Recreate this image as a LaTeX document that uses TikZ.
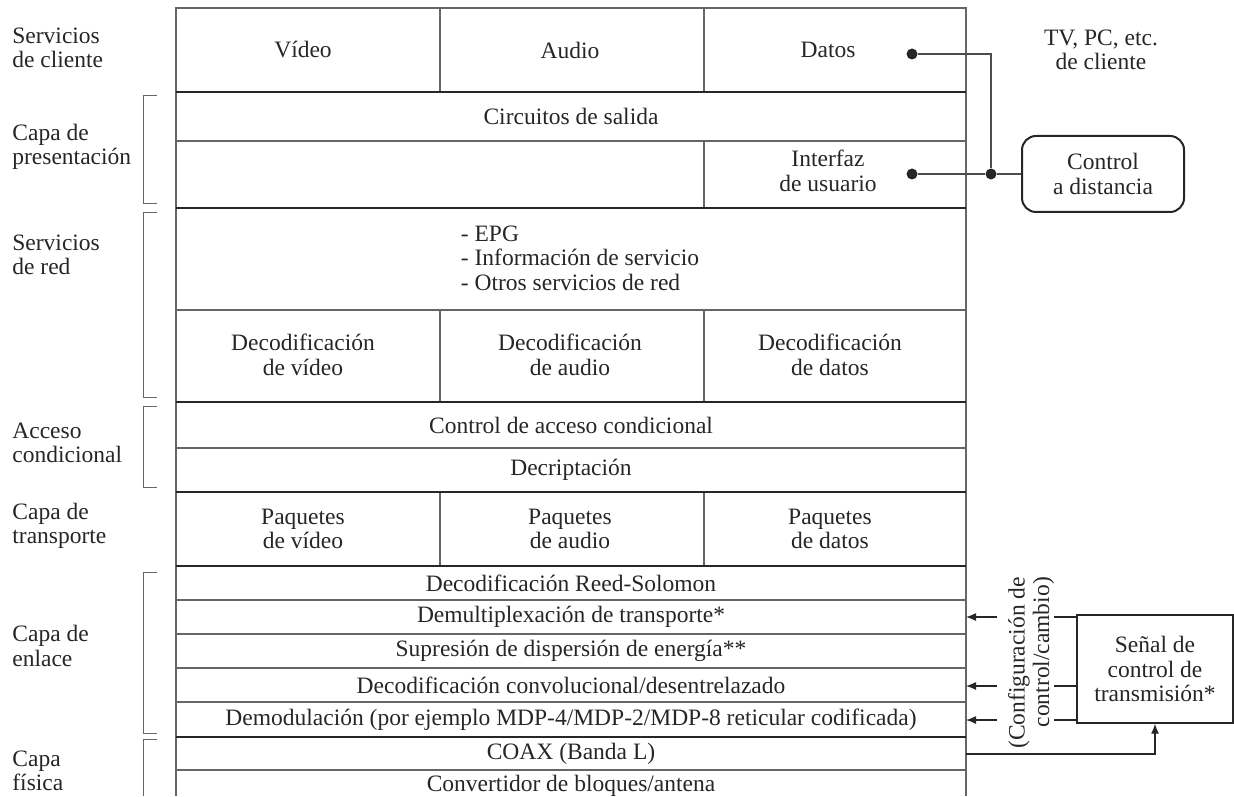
\documentclass[tikz,border=0pt]{standalone}
\usepackage{fontspec}
\setmainfont{Liberation Serif}
\usepackage{tikz}
\usetikzlibrary{arrows.meta}
\tikzstyle{cell}=[inner sep=0pt, align=center, text=black!85, font=\fontsize{11.75}{12.25}\selectfont]
\tikzstyle{layer}=[cell, align=left, anchor=west]
\tikzstyle{thinrule}=[draw=black!60, line width=0.55pt]
\tikzstyle{thickrule}=[draw=black!85, line width=1.1pt]
\tikzstyle{bracket}=[draw=black!60, line width=0.5pt]
\tikzstyle{dotnode}=[circle, fill=black!85, minimum size=5.5pt, inner sep=0pt]
\tikzstyle{wire}=[draw=black!70, line width=0.6pt]
\tikzstyle{ctrlarrow}=[draw=black!85, line width=0.6pt, -{Latex[length=5pt,width=4pt]}]
\tikzstyle{stub}=[draw=black!85, line width=1pt]
\tikzstyle{remote}=[cell, draw=black!85, line width=1pt, rounded corners=7pt, minimum width=81pt, minimum height=38pt]
\tikzstyle{signalbox}=[cell, draw=black!85, line width=0.7pt, minimum width=78pt, minimum height=54pt]

\begin{document}
\begin{tikzpicture}[x=0.5pt, y=-0.5pt]
    \useasboundingbox (0,0) rectangle (1234,796);

    % frame and rows
    \draw[thinrule] (176,796) -- (176,8) -- (966,8) -- (966,796);
    \foreach \ya/\yb in {8/92, 310/402, 492/566}
        \draw[thinrule] (440,\ya) -- (440,\yb) (704,\ya) -- (704,\yb);
    \draw[thinrule] (704,141) -- (704,208);
    \foreach \y in {141,310,448,600,634,668,702,770}
        \draw[thinrule] (176,\y) -- (966,\y);
    \foreach \y in {92,208,402,492,566,737}
        \draw[thickrule] (176,\y) -- (966,\y);

    % cell texts
    \foreach \x/\y/\name/\txt in {303/50/video/Vídeo, 570/50/audio/Audio, 828/50/datos/Datos,
            571/116/salida/Circuitos de salida, 828/171/interfaz/{Interfaz\\de usuario},
            303/355/decvid/{Decodificación\\de vídeo}, 570/355/decaud/{Decodificación\\de audio},
            830/355/decdat/{Decodificación\\de datos},
            571/425/cacontrol/Control de acceso condicional, 571/470/decript/Decriptación,
            303/529/paqvid/{Paquetes\\de vídeo}, 570/529/paqaud/{Paquetes\\de audio},
            830/529/paqdat/{Paquetes\\de datos},
            571/583/rs/Decodificación Reed-Solomon, 571/617/demux/Demultiplexación de transporte*,
            571/651/energia/Supresión de dispersión de energía**,
            571/685/conv/{Decodificación convolucional/desentrelazado},
            571/720/demod/{Demodulación (por ejemplo MDP-4/MDP-2/MDP-8 reticular codificada)},
            571/754/coax/COAX (Banda L), 571/786/lnb/{Convertidor de bloques/antena}}
        \node[cell] (\name) at (\x,\y) {\txt};
    \node[cell, align=left] (epg) at (580,258) {- EPG\\- Información de servicio\\- Otros servicios de red};

    % layer names
    \foreach \y/\name/\txt in {48/lcliente/{Servicios\\de cliente}, 147/lpresent/{Capa de\\presentación},
            255/lred/{Servicios\\de red}, 443/lacceso/{Acceso\\condicional},
            526/ltransp/{Capa de\\transporte}, 646/lenlace/{Capa de\\enlace}, 771/lfisica/{Capa\\física}}
        \node[layer] (\name) at (12,\y) {\txt};
    \foreach \ya/\yb in {96/204, 213/397, 406/487, 572/733}
        \draw[bracket] (157,\ya) -- (143,\ya) -- (143,\yb) -- (157,\yb);
    \draw[bracket] (157,739) -- (143,739) -- (143,796);

    % client side
    \node[cell] (equipo) at (1101,50) {TV, PC, etc.\\de cliente};
    \node[dotnode] (ddatos) at (912,54) {};
    \node[dotnode] (dinterfaz) at (912,174) {};
    \node[dotnode] (djunta) at (991,174) {};
    \node[remote] (mando) at (1103,174) {Control\\a distancia};
    \draw[wire] (ddatos) -| (djunta);
    \draw[wire] (dinterfaz) -- (djunta) -- (mando);

    % transmission control signal
    \node[signalbox] (senal) at (1155,669) {Señal de\\control de\\transmisión*};
    \node[cell, rotate=90, align=right] (config) at (1031,663) {(Configuración de\\control/cambio)};
    \foreach \y/\name in {617/demux, 686/conv, 720/demod} {
        \coordinate (\name-in) at (966,\y);
        \coordinate (\name-out) at (997,\y);
        \coordinate (\name-s) at (1054,\y);
        \draw[ctrlarrow] (\name-out) -- (\name-in);
        \draw[stub] (\name-s) -- (senal.west |- \name-s);
    }
    \coordinate (coax-out) at (966,754);
    \draw[ctrlarrow] (coax-out) -| (senal.south);

\end{tikzpicture}
\end{document}
